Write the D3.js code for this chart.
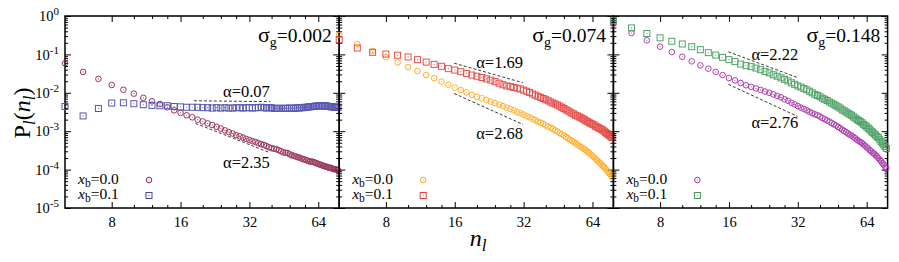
<!DOCTYPE html>
<html>
<head>
<meta charset="utf-8">
<script src="https://cdn.jsdelivr.net/npm/d3@7"></script>
<style>
body { margin: 0; background: #fff; }
text { font-family: "Liberation Serif", "Times New Roman", serif; fill: #000; }
.tick text { font-family: "Liberation Serif", serif; font-size: 14.5px; }
</style>
</head>
<body>
<script>

// cluster size n_l (x values, same for every series)
var nValues = [5, 6, 7, 8, 9, 10, 11, 12, 13, 14,
  15, 16, 17, 18, 19, 20, 21, 22, 23, 24,
  25, 26, 27, 28, 29, 30, 31, 32, 33, 34,
  35, 36, 37, 38, 39, 40, 41, 42, 43, 44,
  45, 46, 47, 48, 49, 50, 51, 52, 53, 54,
  55, 56, 57, 58, 59, 60, 61, 62, 63, 64,
  65, 66, 67, 68, 69, 70, 71, 72, 73, 74,
  75, 76, 77, 78];

// sigma_g = 0.002
var p1_x00 = [5.9e-2, 3.5e-2, 2.3e-2, 1.6e-2, 1.2e-2, 9.5e-3, 7.4e-3, 6.0e-3, 5.1e-3, 4.2e-3,
  3.5e-3, 3.0e-3, 2.6e-3, 2.3e-3, 2.0e-3, 1.8e-3, 1.6e-3, 1.45e-3, 1.3e-3, 1.17e-3,
  1.05e-3, 9.5e-4, 8.7e-4, 7.9e-4, 7.4e-4, 6.8e-4, 6.3e-4, 5.9e-4, 5.5e-4, 5.25e-4,
  4.9e-4, 4.6e-4, 4.4e-4, 4.1e-4, 3.8e-4, 3.6e-4, 3.5e-4, 3.4e-4, 3.2e-4, 3.0e-4,
  2.8e-4, 2.75e-4, 2.7e-4, 2.5e-4, 2.35e-4, 2.3e-4, 2.2e-4, 2.1e-4, 2.05e-4, 1.95e-4,
  1.86e-4, 1.82e-4, 1.74e-4, 1.66e-4, 1.62e-4, 1.62e-4, 1.58e-4, 1.51e-4, 1.45e-4, 1.41e-4,
  1.35e-4, 1.32e-4, 1.26e-4, 1.23e-4, 1.2e-4, 1.17e-4, 1.12e-4, 1.12e-4, 1.1e-4, 1.05e-4,
  1.02e-4, 1.02e-4, 1.0e-4, 9.8e-5];
var p1_x01 = [4.4e-3, 2.5e-3, 3.9e-3, 5.4e-3, 5.5e-3, 5.2e-3, 4.9e-3, 4.7e-3, 4.6e-3, 4.6e-3,
  4.4e-3, 4.3e-3, 4.2e-3, 4.2e-3, 4.2e-3, 4.1e-3, 4.1e-3, 4.0e-3, 4.1e-3, 4.0e-3,
  4.1e-3, 4.0e-3, 4.0e-3, 4.1e-3, 4.1e-3, 4.0e-3, 4.1e-3, 4.1e-3, 4.0e-3, 4.1e-3,
  4.1e-3, 4.2e-3, 4.1e-3, 4.0e-3, 4.1e-3, 4.1e-3, 3.9e-3, 3.9e-3, 4.0e-3, 3.9e-3,
  3.9e-3, 4.0e-3, 3.9e-3, 4.0e-3, 4.0e-3, 3.9e-3, 4.0e-3, 4.1e-3, 4.0e-3, 4.1e-3,
  4.1e-3, 4.2e-3, 4.2e-3, 4.3e-3, 4.3e-3, 4.4e-3, 4.4e-3, 4.5e-3, 4.5e-3, 4.6e-3,
  4.6e-3, 4.6e-3, 4.5e-3, 4.6e-3, 4.6e-3, 4.5e-3, 4.4e-3, 4.4e-3, 4.3e-3, 4.3e-3,
  4.2e-3, 4.2e-3, 4.3e-3, 4.2e-3];

// sigma_g = 0.074
var p2_x00 = [3.2e-1, 1.87e-1, 1.23e-1, 8.4e-2, 6.2e-2, 4.7e-2, 3.7e-2, 2.9e-2, 2.4e-2, 1.95e-2,
  1.63e-2, 1.36e-2, 1.18e-2, 1.03e-2, 8.8e-3, 7.9e-3, 7.2e-3, 6.5e-3, 5.9e-3, 5.4e-3,
  4.9e-3, 4.5e-3, 4.1e-3, 3.8e-3, 3.5e-3, 3.16e-3, 2.95e-3, 2.7e-3, 2.45e-3, 2.3e-3,
  2.1e-3, 1.95e-3, 1.78e-3, 1.66e-3, 1.55e-3, 1.41e-3, 1.32e-3, 1.23e-3, 1.15e-3, 1.05e-3,
  9.8e-4, 8.9e-4, 8.3e-4, 7.8e-4, 7.1e-4, 6.6e-4, 6.0e-4, 5.6e-4, 5.25e-4, 4.9e-4,
  4.5e-4, 4.2e-4, 3.9e-4, 3.6e-4, 3.4e-4, 3.16e-4, 2.9e-4, 2.7e-4, 2.45e-4, 2.25e-4,
  2.1e-4, 1.9e-4, 1.74e-4, 1.62e-4, 1.48e-4, 1.35e-4, 1.26e-4, 1.15e-4, 1.05e-4, 9.5e-5,
  8.7e-5, 7.8e-5, 7.1e-5, 6.5e-5];
var p2_x01 = [2.4e-1, 1.47e-1, 1.13e-1, 1.02e-1, 9.5e-2, 8.6e-2, 7.3e-2, 6.3e-2, 5.5e-2, 4.9e-2,
  4.25e-2, 3.9e-2, 3.55e-2, 3.2e-2, 2.9e-2, 2.7e-2, 2.5e-2, 2.3e-2, 2.14e-2, 1.95e-2,
  1.78e-2, 1.62e-2, 1.51e-2, 1.45e-2, 1.38e-2, 1.32e-2, 1.26e-2, 1.17e-2, 1.10e-2, 1.02e-2,
  9.3e-3, 8.7e-3, 8.1e-3, 7.6e-3, 7.1e-3, 6.6e-3, 6.2e-3, 5.75e-3, 5.4e-3, 5.1e-3,
  4.8e-3, 4.5e-3, 4.2e-3, 3.9e-3, 3.6e-3, 3.4e-3, 3.16e-3, 2.95e-3, 2.8e-3, 2.6e-3,
  2.5e-3, 2.35e-3, 2.24e-3, 2.1e-3, 2.0e-3, 1.86e-3, 1.78e-3, 1.66e-3, 1.58e-3, 1.51e-3,
  1.45e-3, 1.35e-3, 1.29e-3, 1.23e-3, 1.17e-3, 1.12e-3, 1.07e-3, 1.0e-3, 9.3e-4, 8.7e-4,
  8.1e-4, 7.8e-4, 7.2e-4, 6.8e-4];

// sigma_g = 0.148
var p3_x00 = [6.3e-1, 3.6e-1, 2.33e-1, 1.59e-1, 1.15e-1, 8.7e-2, 6.6e-2, 5.2e-2, 4.25e-2, 3.5e-2,
  2.9e-2, 2.43e-2, 2.1e-2, 1.8e-2, 1.57e-2, 1.43e-2, 1.30e-2, 1.19e-2, 1.08e-2, 1.0e-2,
  9.1e-3, 8.3e-3, 7.6e-3, 6.8e-3, 6.2e-3, 5.5e-3, 5.0e-3, 4.5e-3, 4.1e-3, 3.8e-3,
  3.5e-3, 3.2e-3, 2.95e-3, 2.75e-3, 2.6e-3, 2.4e-3, 2.2e-3, 2.04e-3, 1.9e-3, 1.78e-3,
  1.62e-3, 1.51e-3, 1.41e-3, 1.29e-3, 1.2e-3, 1.1e-3, 1.02e-3, 9.5e-4, 8.7e-4, 8.1e-4,
  7.6e-4, 7.1e-4, 6.6e-4, 6.0e-4, 5.6e-4, 5.25e-4, 4.9e-4, 4.5e-4, 4.2e-4, 3.8e-4,
  3.55e-4, 3.2e-4, 3.0e-4, 2.75e-4, 2.6e-4, 2.35e-4, 2.2e-4, 2.0e-4, 1.82e-4, 1.66e-4,
  1.48e-4, 1.35e-4, 1.2e-4, 1.1e-4];
var p3_x01 = [7.7e-1, 4.9e-1, 3.5e-1, 2.7e-1, 2.2e-1, 1.87e-1, 1.59e-1, 1.33e-1, 1.11e-1, 9.6e-2,
  8.4e-2, 7.3e-2, 6.5e-2, 5.6e-2, 5.1e-2, 4.8e-2, 4.4e-2, 4.0e-2, 3.6e-2, 3.3e-2,
  2.95e-2, 2.7e-2, 2.45e-2, 2.24e-2, 2.04e-2, 1.82e-2, 1.66e-2, 1.51e-2, 1.41e-2, 1.29e-2,
  1.2e-2, 1.1e-2, 1.0e-2, 9.1e-3, 8.5e-3, 7.9e-3, 7.2e-3, 6.8e-3, 6.3e-3, 5.75e-3,
  5.4e-3, 5.0e-3, 4.6e-3, 4.3e-3, 4.0e-3, 3.6e-3, 3.4e-3, 3.16e-3, 2.95e-3, 2.75e-3,
  2.6e-3, 2.35e-3, 2.2e-3, 2.04e-3, 1.9e-3, 1.78e-3, 1.66e-3, 1.51e-3, 1.41e-3, 1.29e-3,
  1.2e-3, 1.1e-3, 1.0e-3, 9.3e-4, 8.5e-4, 7.9e-4, 7.2e-4, 6.8e-4, 6.0e-4, 5.4e-4,
  4.9e-4, 4.4e-4, 4.0e-4, 3.55e-4];

var sigmaLabels = ["0.002", "0.074", "0.148"];
var legendLabels = ["0.0", "0.1"];

// power-law guide lines: exponent, n range, value at start
var fits1 = [{alpha: 0.07, n0: 18.3, n1: 39.5, p0: 6.2e-3},
             {alpha: 2.35, n0: 18.6, n1: 38.9, p0: 1.6e-3}];
var fits2 = [{alpha: 1.69, n0: 15.9, n1: 31.8, p0: 5.9e-2},
             {alpha: 2.68, n0: 15.9, n1: 31.8, p0: 9.6e-3}];
var fits3 = [{alpha: 2.22, n0: 15.9, n1: 31.9, p0: 1.17e-1},
             {alpha: 2.76, n0: 15.9, n1: 31.9, p0: 1.66e-2}];

var xMajor = [8, 16, 32, 64];
var xMinor = [10, 12, 14, 20, 24, 28, 40, 48, 56];
var yMajor = [1e-5, 1e-4, 1e-3, 1e-2, 1e-1, 1];


var panelLeft = [65, 339.2, 613.4];
var panelTop = 16, panelW = 274.2, panelH = 192;

// where the alpha labels sit inside each panel (left, baseline)
var fitLabelPos = [[[158, 81], [158, 152]],
                   [[137, 52], [137, 123]],
                   [[138, 44], [138, 112]]];

var panels = [
  {series: [p1_x00, p1_x01], colors: ["#8e1f4a", "#4646a8"], fits: fits1},
  {series: [p2_x00, p2_x01], colors: ["#ffa81a", "#e2403c"], fits: fits2},
  {series: [p3_x00, p3_x01], colors: ["#a52aa5", "#3f9a58"], fits: fits3}
];

var yMinor = [];
yMajor.slice(0, -1).forEach(function(d) {
  for (var m = 2; m < 10; m++) yMinor.push(d * m);
});

var svg = d3.select("body").append("svg")
    .attr("width", 899)
    .attr("height", 262);

var x = d3.scaleLog().base(2)
    .domain([5, 79])
    .range([0, panelW]);

var y = d3.scaleLog()
    .domain([1e-5, 1])
    .range([panelH, 0]);

function drawMarker(sel, kind, color, px, py) {
  if (kind === 0) {
    sel.append("circle")
      .attr("cx", px).attr("cy", py).attr("r", 2.8)
      .attr("fill", "none").attr("stroke", color).attr("stroke-width", 1);
  } else {
    sel.append("rect")
      .attr("x", px - 3).attr("y", py - 3)
      .attr("width", 6).attr("height", 6)
      .attr("fill", "none").attr("stroke", color).attr("stroke-width", 1);
  }
  sel.append("circle")
    .attr("cx", px).attr("cy", py).attr("r", 0.55)
    .attr("fill", color);
}

// text built from separate pieces laid end to end (keeps subscripts in their own box)
function pieceText(parent, px, py, pieces) {
  var cx = px;
  pieces.forEach(function(pc) {
    var t = parent.append("text")
        .attr("x", cx)
        .attr("y", py + (pc.dy || 0))
        .style("font-size", pc.size + "px")
        .style("font-style", pc.italic ? "italic" : null)
        .text(pc.t);
    cx += t.node().getComputedTextLength();
  });
}

panels.forEach(function(p, k) {
  var g = svg.append("g")
      .attr("transform", "translate(" + panelLeft[k] + "," + panelTop + ")");

  // minor ticks, all four sides, pointing inwards
  g.append("g")
      .attr("transform", "translate(0," + panelH + ")")
      .call(d3.axisBottom(x).tickValues(xMinor).tickSize(-3).tickFormat(""));
  g.append("g")
      .call(d3.axisTop(x).tickValues(xMinor).tickSize(-3).tickFormat(""));
  g.append("g")
      .call(d3.axisLeft(y).tickValues(yMinor).tickSize(-3).tickFormat(""));
  g.append("g")
      .attr("transform", "translate(" + panelW + ",0)")
      .call(d3.axisRight(y).tickValues(yMinor).tickSize(-3).tickFormat(""));

  // major ticks
  g.append("g")
      .attr("transform", "translate(0," + panelH + ")")
      .call(d3.axisBottom(x).tickValues(xMajor).tickSize(-6).tickPadding(9).tickFormat(d3.format("d")));
  g.append("g")
      .call(d3.axisTop(x).tickValues(xMajor).tickSize(-6).tickFormat(""));
  var yAx = g.append("g")
      .call(d3.axisLeft(y).tickValues(yMajor).tickSize(-6).tickPadding(6).tickFormat(""));
  g.append("g")
      .attr("transform", "translate(" + panelW + ",0)")
      .call(d3.axisRight(y).tickValues(yMajor).tickSize(-6).tickFormat(""));

  g.selectAll(".domain").remove();

  if (k === 0) {
    yAx.selectAll(".tick text").each(function(d) {
      var t = d3.select(this).text(null);
      t.append("tspan").text("10");
      t.append("tspan")
        .attr("dy", -6)
        .style("font-size", "11px")
        .text(Math.round(Math.log10(d)));
    });
  }

  // frame
  g.append("rect")
      .attr("width", panelW)
      .attr("height", panelH)
      .attr("fill", "none")
      .attr("stroke", "#000")
      .attr("stroke-width", 1.5);

  // guide lines
  p.fits.forEach(function(f, j) {
    var p1 = f.p0 * Math.pow(f.n1 / f.n0, -f.alpha);
    g.append("line")
        .attr("x1", x(f.n0)).attr("y1", y(f.p0))
        .attr("x2", x(f.n1)).attr("y2", y(p1))
        .attr("stroke", "#222")
        .attr("stroke-width", 0.9)
        .style("stroke-dasharray", ("3, 2"));
    g.append("text")
        .attr("x", fitLabelPos[k][j][0])
        .attr("y", fitLabelPos[k][j][1])
        .style("font-size", "16.5px")
        .text("\u03b1=" + d3.format(".2f")(f.alpha));
  });

  // data
  p.series.forEach(function(vals, s) {
    var data = vals.map(function(v, i) { return [nValues[i], v]; });
    var sg = g.append("g").style("opacity", 0.9);
    data.forEach(function(d) {
      drawMarker(sg, s, p.colors[s], x(d[0]), y(d[1]));
    });
  });

  // sigma label
  var st = g.append("text")
      .attr("x", 193)
      .attr("y", 25.5)
      .style("font-size", "19.5px");
  st.append("tspan").style("font-size", "22px").text("\u03c3");
  st.append("tspan").attr("dy", 5).style("font-size", "14px").text("g");
  st.append("tspan").attr("dy", -5).text("=" + sigmaLabels[k]);

  // legend
  legendLabels.forEach(function(lab, s) {
    var ly = 167.5 + s * 15.5;
    pieceText(g, 13, ly, [
      {t: "x", size: 15.5, italic: true},
      {t: "b", size: 11.5, dy: 3},
      {t: "=" + lab, size: 15.5}
    ]);
    drawMarker(g.append("g"), s, p.colors[s], 84, ly - 3.5);
  });
});

// axis titles
var yt = svg.append("text")
    .attr("transform", "translate(30,113) rotate(-90)")
    .attr("text-anchor", "middle")
    .style("font-size", "24px");
yt.append("tspan").text("P");
yt.append("tspan").attr("dy", 5).style("font-size", "17px").style("font-style", "italic").text("l");
yt.append("tspan").attr("dy", -5).text("(");
yt.append("tspan").style("font-style", "italic").text("n");
yt.append("tspan").attr("dy", 5).style("font-size", "17px").style("font-style", "italic").text("l");
yt.append("tspan").attr("dy", -5).text(")");

var xt = svg.append("text")
    .attr("x", 478)
    .attr("y", 246)
    .attr("text-anchor", "middle")
    .style("font-size", "24px")
    .style("font-style", "italic");
xt.append("tspan").text("n");
xt.append("tspan").attr("dy", 5).style("font-size", "17px").text("l");

</script>
</body>
</html>
